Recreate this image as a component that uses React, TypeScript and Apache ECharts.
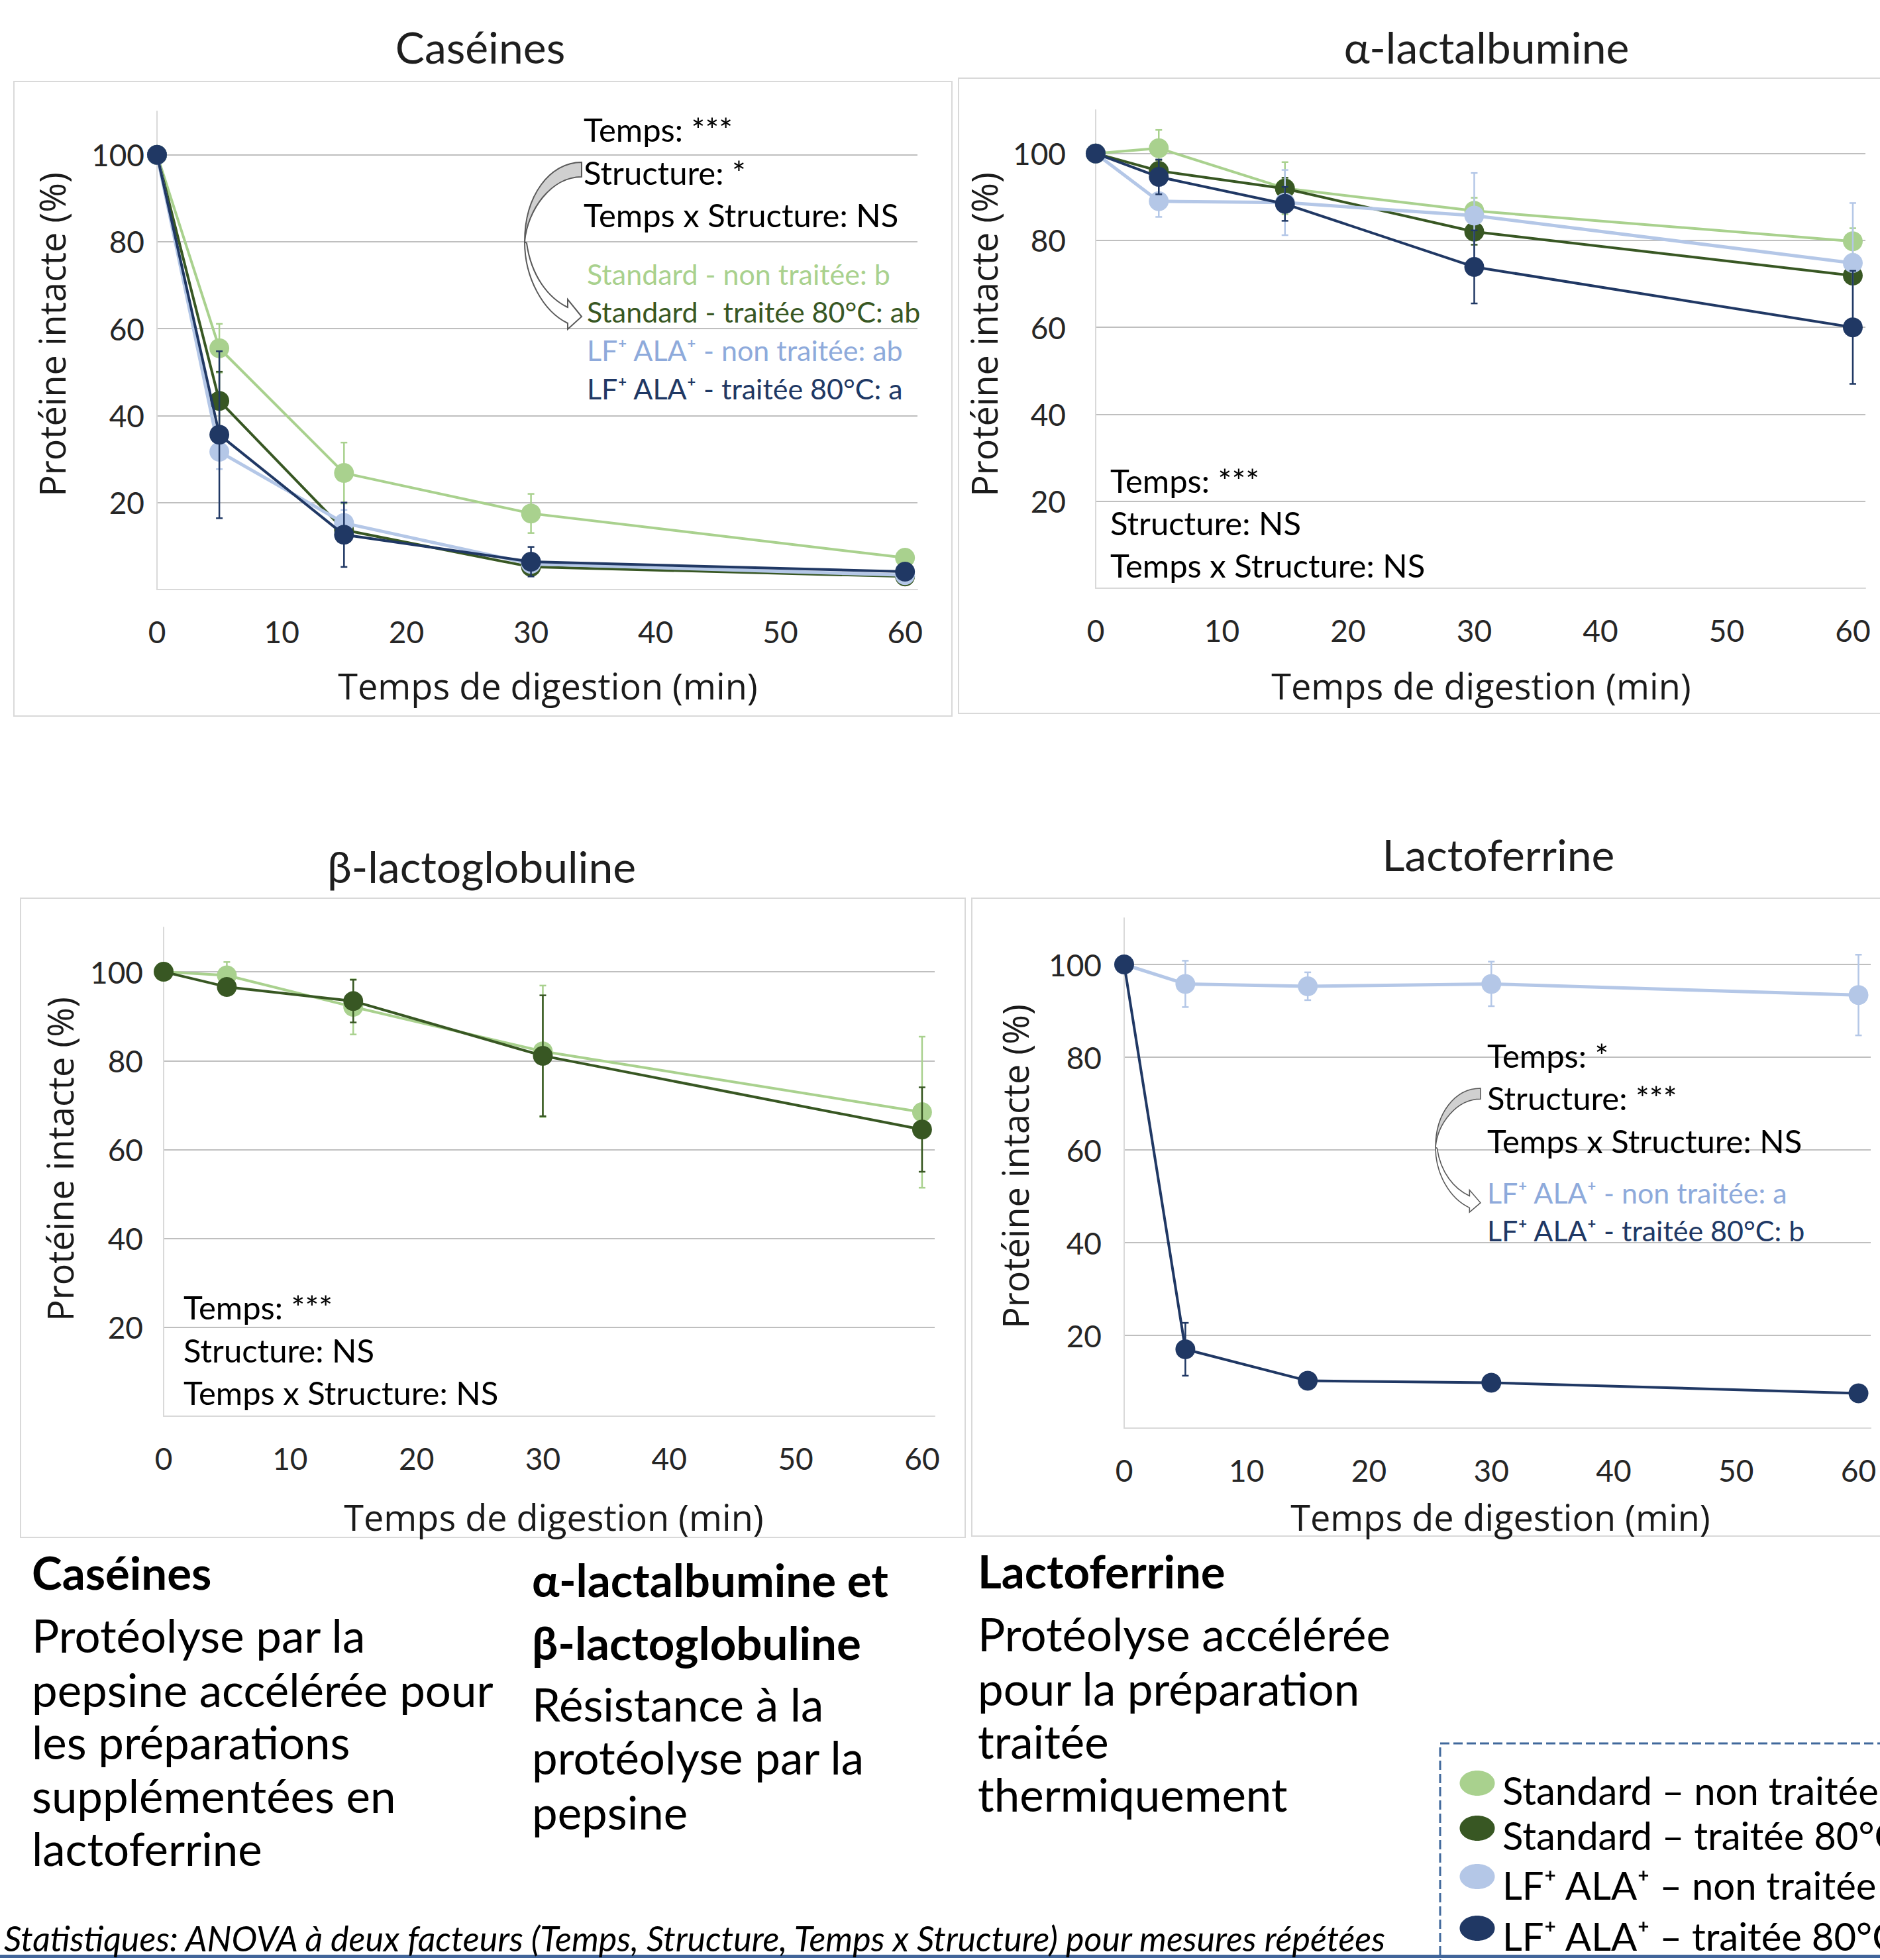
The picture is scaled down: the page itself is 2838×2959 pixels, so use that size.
import React, { useEffect, useRef } from "react";
import * as echarts from "echarts";

// ---------- DATA ----------
const TIMES = [0, 5, 15, 30, 60];
const X_TICKS = [0, 10, 20, 30, 40, 50, 60];
const Y_TICKS = [20, 40, 60, 80, 100];

const LEGEND_NAMES = [
  "Standard – non traitée",
  "Standard – traitée 80°C",
  "LF⁺ ALA⁺ – non traitée",
  "LF⁺ ALA⁺ – traitée 80°C",
];
const COLORS = ["#a9d18e", "#385723", "#b4c7e7", "#203864"];
const TEXT_COLORS = ["#a9d18e", "#385723", "#8eaadb", "#203864"];

// Caséines
const CAS_STD_NT = [100, 55.5, 26.8, 17.5, 7.3];
const CAS_STD_NT_SD = [0, 5.6, 7, 4.5, 1];
const CAS_STD_T = [100, 43.4, 13.7, 5.2, 3.0];
const CAS_STD_T_SD = [0, 6.7, 3, 1, 0.8];
const CAS_LF_NT = [100, 31.7, 15.3, 5.9, 3.3];
const CAS_LF_NT_SD = [0, 4, 3, 1, 0.8];
const CAS_LF_T = [100, 35.6, 12.6, 6.4, 4.1];
const CAS_LF_T_SD = [0, 19.2, 7.4, 3.4, 0.8];

// α-lactalbumine
const ALA_STD_NT = [100, 101.2, 92, 86.8, 79.8];
const ALA_STD_NT_SD = [0, 4.2, 6, 3, 3];
const ALA_STD_T = [100, 96.0, 91.9, 82.0, 71.9];
const ALA_STD_T_SD = [0, 2.5, 2.5, 3, 1.5];
const ALA_LF_NT = [100, 89.0, 88.7, 85.7, 74.8];
const ALA_LF_NT_SD = [0, 3.6, 7.5, 9.8, 13.8];
const ALA_LF_T = [100, 94.6, 88.4, 73.9, 60];
const ALA_LF_T_SD = [0, 4, 3.9, 8.4, 13];

// β-lactoglobuline
const BLG_STD_NT = [100, 99.2, 92.1, 82.1, 68.4];
const BLG_STD_NT_SD = [0, 3, 6.2, 14.8, 17];
const BLG_STD_T = [100, 96.6, 93.4, 81.1, 64.5];
const BLG_STD_T_SD = [0, 1, 4.8, 13.6, 9.5];

// Lactoferrine
const LF_LF_NT = [100, 95.8, 95.3, 95.8, 93.4];
const LF_LF_NT_SD = [0, 5, 3, 4.8, 8.7];
const LF_LF_T = [100, 17.0, 10.2, 9.8, 7.5];
const LF_LF_T_SD = [0, 5.7, 0.8, 1.5, 0.5];

const TITLES = ["Caséines", "α-lactalbumine", "β-lactoglobuline", "Lactoferrine"];
const Y_NAME = "Protéine intacte (%)";
const X_NAME = "Temps de digestion (min)";

const STATS_CAS = ["Temps: ***", "Structure: *", "Temps x Structure: NS"];
const GROUPS_CAS = [
  "Standard - non traitée: b",
  "Standard - traitée 80°C: ab",
  "LF⁺ ALA⁺ - non traitée: ab",
  "LF⁺ ALA⁺ - traitée 80°C: a",
];
const STATS_ALA = ["Temps: ***", "Structure: NS", "Temps x Structure: NS"];
const STATS_BLG = ["Temps: ***", "Structure: NS", "Temps x Structure: NS"];
const STATS_LF = ["Temps: *", "Structure: ***", "Temps x Structure: NS"];
const GROUPS_LF = ["LF⁺ ALA⁺ - non traitée: a", "LF⁺ ALA⁺ - traitée 80°C: b"];

const COL1 = ["Protéolyse par la", "pepsine accélérée pour", "les préparations", "supplémentées en", "lactoferrine"];
const COL2_HEAD = ["α-lactalbumine et", "β-lactoglobuline"];
const COL2 = ["Résistance à la", "protéolyse par la", "pepsine"];
const COL3 = ["Protéolyse accélérée", "pour la préparation", "traitée", "thermiquement"];
const STAT_NOTE =
  "Statistiques: ANOVA à deux facteurs (Temps, Structure, Temps x Structure) pour mesures répétées";

// ---------- SHAPES ----------
const ARROW_BACK_D = "M86 0 C38 0 0 50 0 120 C4 72 40 22 86 22 Z";
const ARROW_FRONT_D =
  "M0 120 C0 175 28 225 65 243 L65 252 L86 233 L65 207 L65 219 C36 205 10 172 3 122 Z";
echarts.graphic.registerShape("arrowBack", echarts.graphic.extendPath(ARROW_BACK_D, {}));
echarts.graphic.registerShape("arrowFront", echarts.graphic.extendPath(ARROW_FRONT_D, {}));

const FONT = "Lato, 'DejaVu Sans', sans-serif";
const FONT_AXIS = "'Open Sans', 'Noto Sans', sans-serif";

type S = { c: number; v: number[]; sd: number[] };

const PANELS: { grid: any; yMargin: number; series: S[] }[] = [
  {
    grid: { left: 237, top: 168, width: 1148, height: 722 },
    yMargin: 19,
    series: [
      { c: 0, v: CAS_STD_NT, sd: CAS_STD_NT_SD },
      { c: 1, v: CAS_STD_T, sd: CAS_STD_T_SD },
      { c: 2, v: CAS_LF_NT, sd: CAS_LF_NT_SD },
      { c: 3, v: CAS_LF_T, sd: CAS_LF_T_SD },
    ],
  },
  {
    grid: { left: 1654, top: 166, width: 1162, height: 722 },
    yMargin: 45,
    series: [
      { c: 0, v: ALA_STD_NT, sd: ALA_STD_NT_SD },
      { c: 1, v: ALA_STD_T, sd: ALA_STD_T_SD },
      { c: 2, v: ALA_LF_NT, sd: ALA_LF_NT_SD },
      { c: 3, v: ALA_LF_T, sd: ALA_LF_T_SD },
    ],
  },
  {
    grid: { left: 247, top: 1400, width: 1164, height: 738 },
    yMargin: 31,
    series: [
      { c: 0, v: BLG_STD_NT, sd: BLG_STD_NT_SD },
      { c: 1, v: BLG_STD_T, sd: BLG_STD_T_SD },
    ],
  },
  {
    grid: { left: 1697, top: 1386, width: 1127, height: 770 },
    yMargin: 34,
    series: [
      { c: 2, v: LF_LF_NT, sd: LF_LF_NT_SD },
      { c: 3, v: LF_LF_T, sd: LF_LF_T_SD },
    ],
  },
];

function txt(text: string, x: number, y: number, size: number, extra: any = {}) {
  const { fill = "#000", align = "left", family = FONT, weight = "normal", style = "normal", rotation = 0 } = extra;
  return {
    type: "text",
    x,
    y,
    rotation,
    silent: true,
    z: 10,
    style: {
      text,
      fontSize: size,
      fontFamily: family,
      fontWeight: weight,
      fontStyle: style,
      fill,
      textAlign: align,
      textVerticalAlign: "middle",
    },
  };
}

function buildOption() {
  const series: any[] = [];
  PANELS.forEach((p, pi) => {
    p.series.forEach((s, si) => {
      const color = COLORS[s.c];
      series.push({
        type: "custom",
        xAxisIndex: pi,
        yAxisIndex: pi,
        silent: true,
        z: 3 + si * 2,
        encode: { x: 0, y: [1, 2] },
        data: TIMES.map((t, k) => [t, s.v[k] - s.sd[k], s.v[k] + s.sd[k]]).filter((_, k) => s.sd[k] > 0),
        renderItem: (params: any, api: any) => {
          const x = api.value(0);
          const a = api.coord([x, api.value(2)]);
          const b = api.coord([x, api.value(1)]);
          const cw = 5;
          const st = { stroke: color, lineWidth: 2.5 };
          return {
            type: "group",
            children: [
              { type: "line", shape: { x1: a[0], y1: a[1], x2: b[0], y2: b[1] }, style: st },
              { type: "line", shape: { x1: a[0] - cw, y1: a[1], x2: a[0] + cw, y2: a[1] }, style: st },
              { type: "line", shape: { x1: b[0] - cw, y1: b[1], x2: b[0] + cw, y2: b[1] }, style: st },
            ],
          };
        },
      });
      series.push({
        type: "line",
        name: LEGEND_NAMES[s.c],
        xAxisIndex: pi,
        yAxisIndex: pi,
        silent: true,
        z: 4 + si * 2,
        data: TIMES.map((t, k) => [t, s.v[k]]),
        symbol: "circle",
        symbolSize: 30,
        showSymbol: true,
        lineStyle: { color, width: s.c === 2 ? 5 : 4 },
        itemStyle: { color },
        emphasis: { disabled: true },
      });
    });
  });

  const graphic: any[] = [];
  const boxStyle = { fill: "none", stroke: "#d9d9d9", lineWidth: 2 };
  // chart area boxes
  graphic.push({ type: "rect", silent: true, z: 0, shape: { x: 21, y: 123, width: 1416, height: 958 }, style: boxStyle });
  graphic.push({ type: "rect", silent: true, z: 0, shape: { x: 1447, y: 118, width: 1420, height: 959 }, style: boxStyle });
  graphic.push({ type: "rect", silent: true, z: 0, shape: { x: 31, y: 1356, width: 1426, height: 965 }, style: boxStyle });
  graphic.push({ type: "rect", silent: true, z: 0, shape: { x: 1467, y: 1356, width: 1400, height: 963 }, style: boxStyle });

  // titles
  const titlePos = [
    [725, 70],
    [2244, 70],
    [727, 1307],
    [2262, 1289],
  ];
  TITLES.forEach((t, i) =>
    graphic.push(txt(t, titlePos[i][0], titlePos[i][1], 66, { align: "center", fill: "#1e1e1e" }))
  );

  // axis names
  const yNamePos = [
    [78, 505],
    [1485, 505],
    [90, 1750],
    [1532, 1761],
  ];
  const xNamePos = [
    [827, 1035],
    [2236, 1035],
    [836, 2290],
    [2265, 2290],
  ];
  yNamePos.forEach(([x, y]) =>
    graphic.push(txt(Y_NAME, x, y, 54, { align: "center", family: FONT_AXIS, fill: "#1a1a1a", rotation: Math.PI / 2 }))
  );
  xNamePos.forEach(([x, y]) =>
    graphic.push(txt(X_NAME, x, y, 54, { align: "center", family: FONT_AXIS, fill: "#1a1a1a" }))
  );

  // annotations
  const ANN = 49;
  const ANN_C = 43;
  STATS_CAS.forEach((t, i) => graphic.push(txt(t, 881, [195, 260, 324][i], ANN)));
  GROUPS_CAS.forEach((t, i) =>
    graphic.push(txt(t, 886, [413, 470, 528, 586][i], ANN_C, { fill: TEXT_COLORS[i] }))
  );
  STATS_ALA.forEach((t, i) => graphic.push(txt(t, 1676, [725, 789, 853][i], ANN)));
  STATS_BLG.forEach((t, i) => graphic.push(txt(t, 277, [1973, 2038, 2102][i], ANN)));
  STATS_LF.forEach((t, i) => graphic.push(txt(t, 2245, [1593, 1657, 1722][i], ANN)));
  GROUPS_LF.forEach((t, i) =>
    graphic.push(txt(t, 2245, [1800, 1857][i], ANN_C, { fill: TEXT_COLORS[2 + i] }))
  );

  // curved arrows
  const arrowStroke = { stroke: "#595959", lineWidth: 2 };
  const arrows = [
    { x: 792, y: 245, sx: 1, sy: 1 },
    { x: 2167, y: 1643, sx: 0.79, sy: 0.742 },
  ];
  arrows.forEach((a) => {
    graphic.push({ type: "arrowBack", x: a.x, y: a.y, scaleX: a.sx, scaleY: a.sy, silent: true, z: 9, style: { fill: "#d0d0d0", ...arrowStroke } });
    graphic.push({ type: "arrowFront", x: a.x, y: a.y, scaleX: a.sx, scaleY: a.sy, silent: true, z: 9, style: { fill: "#ffffff", ...arrowStroke } });
  });

  // bottom text columns
  const BODY = 69;
  graphic.push(txt("Caséines", 48, 2373, BODY, { weight: "bold" }));
  COL1.forEach((t, i) => graphic.push(txt(t, 48, [2468, 2550, 2629, 2710, 2790][i], BODY)));
  COL2_HEAD.forEach((t, i) => graphic.push(txt(t, 803, [2384, 2479][i], BODY, { weight: "bold" })));
  COL2.forEach((t, i) => graphic.push(txt(t, 803, [2572, 2652, 2735][i], BODY)));
  graphic.push(txt("Lactoferrine", 1476, 2371, BODY, { weight: "bold" }));
  COL3.forEach((t, i) => graphic.push(txt(t, 1476, [2466, 2548, 2628, 2708][i], BODY)));

  // statistics note
  graphic.push(txt(STAT_NOTE, 6, 2926, 52, { style: "italic" }));

  // legend box
  graphic.push({
    type: "rect",
    silent: true,
    z: 5,
    shape: { x: 2174, y: 2632, width: 900, height: 400 },
    style: { fill: "none", stroke: "#41699c", lineWidth: 3, lineDash: [14, 6] },
  });
  const legY = [2692, 2760, 2833, 2911];
  const legTY = [2702, 2770, 2845, 2922];
  LEGEND_NAMES.forEach((n, i) => {
    graphic.push({ type: "ellipse", silent: true, z: 6, shape: { cx: 2230, cy: legY[i], rx: 26.5, ry: 19 }, style: { fill: COLORS[i] } });
    graphic.push(txt(n, 2268, legTY[i], 58));
  });

  // bottom blue rule
  graphic.push({ type: "rect", silent: true, z: 7, shape: { x: 0, y: 2951, width: 2838, height: 5 }, style: { fill: "#41659a" } });

  return {
    animation: false,
    backgroundColor: "#ffffff",
    textStyle: { fontFamily: FONT },
    grid: PANELS.map((p) => ({ ...p.grid, containLabel: false })),
    xAxis: PANELS.map((p, i) => ({
      gridIndex: i,
      type: "value",
      min: X_TICKS[0],
      max: 61,
      interval: 10,
      axisLine: { show: true, lineStyle: { color: "#d9d9d9", width: 2 } },
      axisTick: { show: false },
      splitLine: { show: false },
      axisLabel: {
        margin: 40,
        fontSize: 46,
        fontFamily: FONT,
        color: "#262626",
        formatter: (v: number) => (X_TICKS.indexOf(v) >= 0 ? String(v) : ""),
      },
    })),
    yAxis: PANELS.map((p, i) => ({
      gridIndex: i,
      type: "value",
      min: 0,
      max: 110,
      interval: 20,
      axisLine: { show: true, lineStyle: { color: "#d9d9d9", width: 2 } },
      axisTick: { show: false },
      splitLine: { show: true, showMinLine: false, showMaxLine: false, lineStyle: { color: "#bfbfbf", width: 2 } },
      axisLabel: {
        margin: p.yMargin,
        fontSize: 46,
        fontFamily: FONT,
        color: "#262626",
        formatter: (v: number) => (Y_TICKS.indexOf(v) >= 0 ? String(v) : ""),
      },
    })),
    series,
    graphic: { elements: graphic },
  };
}

export default function App() {
  const ref = useRef<HTMLDivElement>(null);
  useEffect(() => {
    const chart = echarts.init(ref.current!, null, { renderer: "svg" });
    chart.setOption(buildOption() as any);
    return () => chart.dispose();
  }, []);
  return (
    <div
      ref={ref}
      style={{ position: "absolute", left: 0, top: 0, width: 2838, height: 2959, background: "#fff" }}
    />
  );
}
